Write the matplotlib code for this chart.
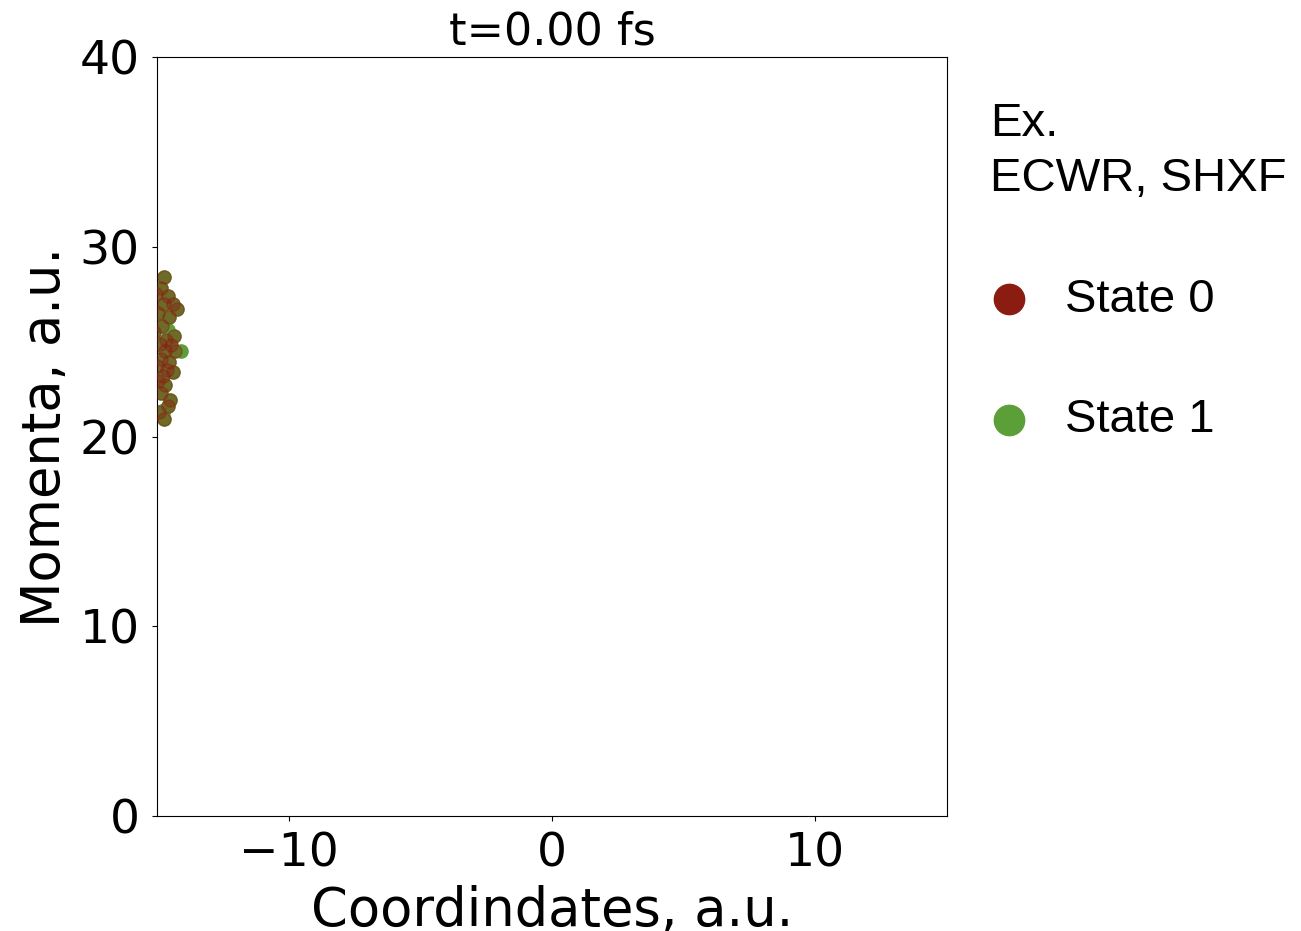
import matplotlib
matplotlib.use('Agg')
import matplotlib.pyplot as plt

# trajectory phase-space positions at t = 0
coords_s0 = [-14.72, -14.85, -15.05, -14.60, -14.40, -14.23, -14.75, -14.95, -14.55,
             -14.35, -14.80, -15.10, -14.65, -14.45, -14.90, -14.70, -14.30, -14.85,
             -14.55, -15.00, -14.62, -14.40, -14.78, -14.95, -14.70, -14.50, -14.85,
             -14.60, -14.92, -14.75]
moment_s0 = [28.4, 27.8, 27.5, 27.4, 27.0, 26.7, 27.0, 26.5, 26.3,
             25.3, 25.8, 25.5, 25.1, 24.8, 24.9, 24.5, 24.5, 24.1,
             23.9, 23.7, 23.5, 23.4, 23.2, 22.9, 22.7, 21.9, 22.3,
             21.6, 21.3, 20.9]
coords_s1 = coords_s0 + [-14.10, -14.75, -14.60, -14.85, -14.65]
moment_s1 = moment_s0 + [24.5, 21.4, 25.6, 23.8, 27.2]

labels = ['State 0', 'State 1']
colors = ['#8b1c12', '#5c9e38']

fig = plt.figure(figsize=(13.01, 9.31), dpi=100)
ax = fig.add_axes([157/1301, 1-816/931, 790/1301, 759/931])

ax.scatter(coords_s1, moment_s1, s=90, color=colors[1], zorder=2)
ax.scatter(coords_s0, moment_s0, s=90, color=colors[0], alpha=0.4, zorder=3)

ax.set_xlim(-15, 15)
ax.set_ylim(0, 40)
ax.set_xticks([-10, 0, 10])
ax.set_yticks([0, 10, 20, 30, 40])
ax.tick_params(labelsize=34)
ax.tick_params(axis='x', pad=8)
ax.tick_params(axis='y', pad=9)
ax.set_xlabel('Coordindates, a.u.', fontsize=38, labelpad=6)
ax.set_ylabel('Momenta, a.u.', fontsize=38, labelpad=6)
ax.set_title('t=0.00 fs', fontsize=32, pad=9)

# legend handles drawn off-axes
h0 = ax.scatter([], [], s=90, color=colors[0], label=labels[0])
h1 = ax.scatter([], [], s=90, color=colors[1], label=labels[1])
leg = ax.legend(handles=[h0, h1], title='Ex.\nECWR, SHXF', loc='upper left',
                bbox_to_anchor=(1.054, 0.941), frameon=False, markerscale=2.3,
                prop={'family': 'Liberation Sans', 'size': 34},
                labelspacing=1.62, handlelength=0.8, handletextpad=0.79,
                borderpad=0, borderaxespad=0)
leg.get_title().set_fontsize(34)
leg.get_title().set_family('Liberation Sans')
leg.get_title().set_linespacing(1.34)
leg._legend_box.align = 'left'

fig.savefig('out.png', dpi=100)
